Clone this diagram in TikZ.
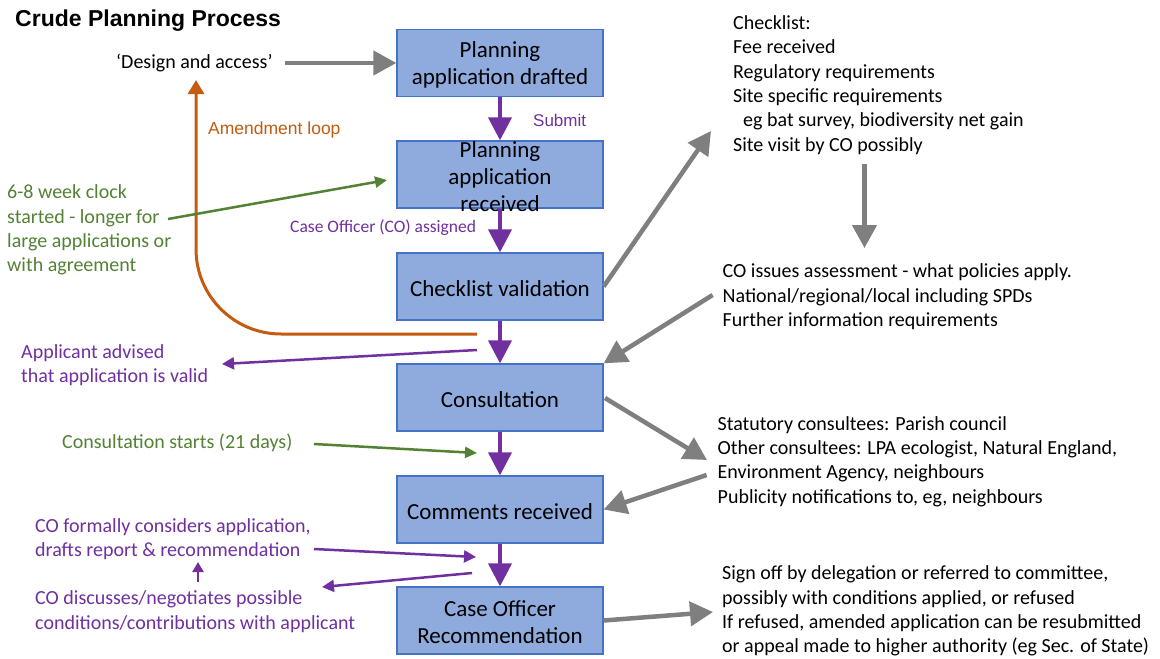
\documentclass[tikz,border=0pt]{standalone}
\usepackage{fontspec}
\setmainfont{Carlito}
\newfontfamily\arialf{Liberation Sans}
\usetikzlibrary{arrows.meta}
\definecolor{boxfill}{HTML}{8FAADC}
\definecolor{boxline}{HTML}{4472C4}
\definecolor{pur}{HTML}{7030A0}
\definecolor{grn}{HTML}{548235}
\definecolor{org}{HTML}{C55A11}
\definecolor{gry}{HTML}{7F7F7F}
\begin{document}
\begin{tikzpicture}[x=1pt,y=-1pt,
  box/.style={draw=boxline, line width=1.3pt, fill=boxfill, minimum width=206pt, minimum height=67pt, inner sep=0pt},
  boxtext/.style={align=center, font=\fontsize{23}{27}\selectfont, inner sep=0pt, yshift=-2pt},
  note/.style={anchor=west, align=left, inner sep=0pt, font=\fontsize{20}{24.4}\selectfont},
  flow/.style={draw=pur, line width=4pt, -{Triangle[length=23pt,width=23pt]}},
  grayarr/.style={draw=gry, line width=4.5pt, -{Triangle[length=23pt,width=24pt]}},
  thinpur/.style={draw=pur, line width=2.5pt, -{Triangle[length=12pt,width=12pt]}},
  thingrn/.style={draw=grn, line width=2.5pt, -{Triangle[length=12pt,width=11pt]}},
  orgarr/.style={draw=org, line width=3pt, -{Triangle[length=14pt,width=16pt]}},
]
\path[fill=white, use as bounding box] (0,0) rectangle (1160,659);

% boxes
\node[box] (b1) at (500,63) {};
\node[box] (b2) at (500,174.5) {};
\node[box] (b3) at (500,286.5) {};
\node[box] (b4) at (500,397.5) {};
\node[box] (b5) at (500,509.5) {};
\node[box] (b6) at (500,620.5) {};
\node[boxtext] (t1) at (b1) {Planning\\application drafted};
\node[boxtext] (t2) at (b2) {Planning\\application\\received};
\node[boxtext] (t3) at (b3) {Checklist validation};
\node[boxtext] (t4) at (b4) {Consultation};
\node[boxtext] (t5) at (b5) {Comments received};
\node[boxtext] (t6) at (b6) {Case Officer\\Recommendation};

% main flow
\draw[flow] (b1.south) -- (b2.north);
\draw[flow] (b2.south) -- (b3.north);
\draw[flow] (b3.south) -- (b4.north);
\draw[flow] (b4.south) -- (b5.north);
\draw[flow] (b5.south) -- (b6.north);

% title and labels
\node[anchor=west, inner sep=0pt, font=\arialf\bfseries\fontsize{23}{27}\selectfont] (title) at (15,21) {Crude Planning Process};
\node[note] (design) at (116,63) {‘Design and access’};
\node[anchor=west, inner sep=0pt, text=pur, font=\arialf\fontsize{17}{20}\selectfont] (submit) at (533,120) {Submit};
\node[anchor=west, inner sep=0pt, text=org, font=\arialf\fontsize{17.5}{21}\selectfont] (amend) at (208,130) {Amendment loop};
\node[anchor=west, inner sep=0pt, text=pur, font=\fontsize{17.5}{21}\selectfont] (assigned) at (290,228) {Case Officer (CO) assigned};
\node[note, text=grn] (clock) at (7,230) {6-8 week clock\\started - longer for\\large applications or\\with agreement};
\node[note, text=pur] (advised) at (21,365) {Applicant advised\\that application is valid};
\node[note, text=grn] (cstart) at (62,443) {Consultation starts (21 days)};
\node[note, text=pur] (formal) at (35,539) {CO formally considers application,\\drafts report \& recommendation};
\node[note, text=pur] (discuss) at (35,611.5) {CO discusses/negotiates possible\\conditions/contributions with applicant};

\node[note] (check) at (733,85) {Checklist:\\Fee received\\Regulatory requirements\\Site specific requirements\\\hspace*{10pt}eg bat survey, biodiversity net gain\\Site visit by CO possibly};
\node[note] (assess) at (722.5,297) {CO issues assessment - what policies apply.\\National/regional/local including SPDs\\Further information requirements};
\node[note] (stat) at (717.5,461.5) {Statutory consultees: Parish council\\Other consultees: LPA ecologist, Natural England,\\Environment Agency, neighbours\\Publicity notifications to, eg, neighbours};
\node[note] (sign) at (722,611) {Sign off by delegation or referred to committee,\\possibly with conditions applied, or refused\\If refused, amended application can be resubmitted\\or appeal made to higher authority (eg Sec. of State)};

% coordinates for free ends
\coordinate (dA) at (285,63);
\coordinate (cvA) at (711,131);
\coordinate (chkB) at (864.5,164);
\coordinate (chkE) at (864.5,248);
\coordinate (asA) at (712.6,295);
\coordinate (coA) at (605,398);
\coordinate (stE) at (707,460);
\coordinate (stA) at (706.6,475);
\coordinate (sgE) at (713,612);
\coordinate (clA) at (168,219);
\coordinate (clE) at (387,180);
\coordinate (avA) at (477,350);
\coordinate (avE) at (222,364);
\coordinate (csA) at (314,444);
\coordinate (csE) at (477,453);
\coordinate (fmA) at (314,549);
\coordinate (fmE) at (476,557);
\coordinate (dsA) at (472,573);
\coordinate (dsE) at (322,587);
\coordinate (upA) at (198,582);
\coordinate (upE) at (198,562);
\coordinate (orA) at (477,334);
\coordinate (orE) at (196,80);

% gray arrows
\draw[grayarr] (dA) -- (b1.west);
\draw[grayarr] (b3.east) -- (cvA);
\draw[grayarr] (chkB) -- (chkE);
\draw[grayarr] (asA) -- (b4.north east);
\draw[grayarr] (coA) -- (stE);
\draw[grayarr] (stA) -- (b5.east);
\draw[grayarr] (b6.east) -- (sgE);

% amendment loop
\draw[orgarr, rounded corners=85pt] (orA) -| (orE);

% green arrows
\draw[thingrn] (clA) -- (clE);
\draw[thingrn] (csA) -- (csE);

% purple thin arrows
\draw[thinpur] (avA) -- (avE);
\draw[thinpur] (fmA) -- (fmE);
\draw[thinpur] (dsA) -- (dsE);
\draw[thinpur, -{Triangle[length=10pt,width=11pt]}] (upA) -- (upE);
\end{tikzpicture}
\end{document}
